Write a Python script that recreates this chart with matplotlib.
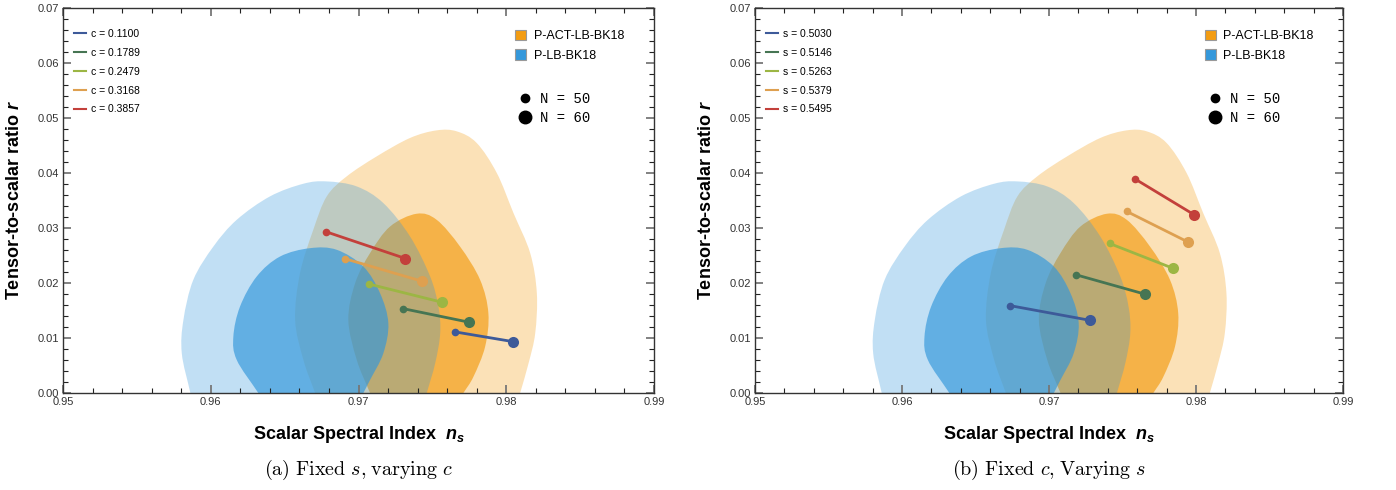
import matplotlib
matplotlib.use("Agg")
import matplotlib.pyplot as plt
from matplotlib.patches import PathPatch, Patch
from matplotlib.path import Path
from matplotlib.lines import Line2D

plt.rcParams['font.family'] = ['Liberation Sans', 'DejaVu Sans']
plt.rcParams['mathtext.fontset'] = 'custom'
plt.rcParams['mathtext.bfit'] = 'Liberation Sans:bold:italic'
plt.rcParams['mathtext.it'] = 'Liberation Sans:italic'

# confidence regions (ns, r)
blue_outer = [(0.95862, 0.0), (0.95804, 0.0072), (0.95815, 0.01327), (0.95882, 0.02055),
              (0.96018, 0.0266), (0.96176, 0.03145), (0.96401, 0.0357), (0.96627, 0.038),
              (0.96785, 0.03842), (0.96988, 0.03751), (0.97168, 0.03449), (0.97349, 0.02842),
              (0.97485, 0.02115), (0.97541, 0.01569), (0.97553, 0.01085), (0.97519, 0.0054),
              (0.97462, 0.0)]
blue_inner = [(0.96322, 0.0), (0.96176, 0.006), (0.96153, 0.01024), (0.96198, 0.01569),
              (0.96311, 0.02115), (0.96469, 0.02478), (0.96672, 0.0263), (0.96853, 0.026),
              (0.97033, 0.02296), (0.97146, 0.01812), (0.97202, 0.01267), (0.97168, 0.0072),
              (0.97078, 0.00236), (0.97033, 0.0)]
orange_outer = [(0.96706, 0.0), (0.96627, 0.006), (0.96571, 0.01327), (0.96604, 0.02176),
                (0.96694, 0.02964), (0.96785, 0.0357), (0.9692, 0.03933), (0.97123, 0.04296),
                (0.97349, 0.04631), (0.97529, 0.04769), (0.97665, 0.04751), (0.978, 0.0454),
                (0.97936, 0.03995), (0.98049, 0.03267), (0.98162, 0.0254), (0.98207, 0.01812),
                (0.98196, 0.01085), (0.98151, 0.0054), (0.98094, 0.0)]
orange_inner = [(0.97078, 0.0), (0.96988, 0.006), (0.96931, 0.01327), (0.96977, 0.01994),
                (0.97078, 0.0254), (0.97214, 0.03024), (0.97394, 0.03255), (0.97529, 0.03145),
                (0.97687, 0.0266), (0.97823, 0.02055), (0.97879, 0.01449), (0.97857, 0.00842),
                (0.97778, 0.00296), (0.9771, 0.0)]

# panel (a): fixed s, varying c  -> (N=50 point, N=60 point)
c_labels = ["c = 0.1100", "c = 0.1789", "c = 0.2479", "c = 0.3168", "c = 0.3857"]
c_ns50 = [0.97655, 0.97300, 0.97074, 0.96911, 0.96781]
c_r50 = [0.01109, 0.01533, 0.01976, 0.02436, 0.02927]
c_ns60 = [0.98045, 0.97749, 0.97563, 0.97428, 0.97318]
c_r60 = [0.00933, 0.01285, 0.01649, 0.02031, 0.02442]

# panel (b): fixed c, varying s
s_labels = ["s = 0.5030", "s = 0.5146", "s = 0.5263", "s = 0.5379", "s = 0.5495"]
s_ns50 = [0.96732, 0.97186, 0.97412, 0.97529, 0.97586]
s_r50 = [0.01588, 0.02145, 0.02715, 0.03297, 0.03885]
s_ns60 = [0.97276, 0.97654, 0.97841, 0.97943, 0.97988]
s_r60 = [0.01321, 0.01794, 0.02267, 0.02745, 0.03236]

line_colors = ['#3d5a99', '#467553', '#9cb644', '#dea050', '#c3403b']
orange = '#f39c12'
blue = '#3498db'
xticks = [0.95, 0.96, 0.97, 0.98, 0.99]
yticks = [0.00, 0.01, 0.02, 0.03, 0.04, 0.05, 0.06, 0.07]


def smooth_path(pts):
    # Catmull-Rom through the traced outline, closed along r = 0
    p = [(2 * pts[0][0] - pts[1][0], 2 * pts[0][1] - pts[1][1])] + list(pts) + \
        [(2 * pts[-1][0] - pts[-2][0], 2 * pts[-1][1] - pts[-2][1])]
    verts = [pts[0]]
    codes = [Path.MOVETO]
    for i in range(1, len(p) - 2):
        p0, p1, p2, p3 = p[i - 1], p[i], p[i + 1], p[i + 2]
        c1 = (p1[0] + (p2[0] - p0[0]) / 6, p1[1] + (p2[1] - p0[1]) / 6)
        c2 = (p2[0] - (p3[0] - p1[0]) / 6, p2[1] - (p3[1] - p1[1]) / 6)
        verts += [c1, c2, p2]
        codes += [Path.CURVE4] * 3
    verts.append(pts[0])
    codes.append(Path.CLOSEPOLY)
    return Path(verts, codes)


def draw_panel(ax, labels, ns50, r50, ns60, r60, caption):
    ax.add_patch(PathPatch(smooth_path(orange_outer), fc=orange, alpha=0.3, lw=0))
    ax.add_patch(PathPatch(smooth_path(orange_inner), fc=orange, alpha=0.67, lw=0))
    ax.add_patch(PathPatch(smooth_path(blue_outer), fc=blue, alpha=0.3, lw=0))
    ax.add_patch(PathPatch(smooth_path(blue_inner), fc=blue, alpha=0.67, lw=0))

    handles = []
    for i in range(len(labels)):
        col = line_colors[i]
        ax.plot([ns50[i], ns60[i]], [r50[i], r60[i]], color=col, lw=2, zorder=3)
        ax.plot(ns50[i], r50[i], 'o', color=col, ms=5.5, mec='none', zorder=4)
        ax.plot(ns60[i], r60[i], 'o', color=col, ms=8, mec='none', zorder=4)
        handles.append(Line2D([], [], color=col, lw=1.5, label=labels[i]))

    ax.set_xlim(0.95, 0.99)
    ax.set_ylim(0.0, 0.07)
    ax.set_xticks(xticks)
    ax.set_xticklabels(["%.2f" % v for v in xticks])
    ax.set_yticks(yticks)
    ax.set_yticklabels(["%.2f" % v for v in yticks])
    ax.set_xticks([0.95 + 0.002 * k for k in range(21)], minor=True)
    ax.set_yticks([0.002 * k for k in range(36)], minor=True)
    ax.tick_params(which='both', direction='in', top=True, right=True,
                   labelsize=8, labelcolor='#333333', pad=3)
    ax.tick_params(which='major', length=6, width=1.3, color='#777777')
    ax.tick_params(which='minor', length=3.5, width=0.8, color='#222222')
    for sp in ax.spines.values():
        sp.set_linewidth(1.0)
        sp.set_color('#333333')

    ax.set_xlabel(r"Scalar Spectral Index  $\mathbfit{n_s}$", fontsize=13,
                  fontweight='bold', labelpad=12)
    ax.set_ylabel(r"Tensor-to-scalar ratio $\mathbfit{r}$", fontsize=13,
                  fontweight='bold', labelpad=10)

    leg1 = ax.legend(handles=handles, loc='upper left', bbox_to_anchor=(0.012, 0.955),
                     frameon=False, fontsize=7.5, handlelength=1.1, handletextpad=0.5,
                     labelspacing=0.85, borderaxespad=0)
    ax.add_artist(leg1)

    patches = [Patch(fc=orange, ec='#999999', lw=0.8, label="P-ACT-LB-BK18"),
               Patch(fc=blue, ec='#999999', lw=0.8, label="P-LB-BK18")]
    leg2 = ax.legend(handles=patches, loc='upper left', bbox_to_anchor=(0.756, 0.955),
                     frameon=False, fontsize=9, handlelength=0.9, handleheight=0.9,
                     handletextpad=0.6, labelspacing=0.55, borderaxespad=0)
    ax.add_artist(leg2)

    dots = [Line2D([], [], ls='none', marker='o', color='black', ms=6, label="N = 50"),
            Line2D([], [], ls='none', marker='o', color='black', ms=9, label="N = 60")]
    ax.legend(handles=dots, loc='upper left', bbox_to_anchor=(0.763, 0.795),
              frameon=False, prop={'family': 'Liberation Mono', 'size': 10},
              handlelength=0.8, handletextpad=0.7, labelspacing=0.35, borderaxespad=0)

    pos = ax.get_position()
    ax.figure.text(pos.x0 + pos.width / 2, 0.04, caption, ha='center', va='center',
                   fontsize=14.5, math_fontfamily='cm')


fig = plt.figure(figsize=(13.96, 4.9), dpi=100)
ax1 = fig.add_axes([63 / 1396, 1 - 393 / 490, 591 / 1396, 385.5 / 490])
ax2 = fig.add_axes([755 / 1396, 1 - 393 / 490, 588 / 1396, 385.5 / 490])

draw_panel(ax1, c_labels, c_ns50, c_r50, c_ns60, c_r60,
           r"$\mathrm{(a)\ Fixed}\ s\mathrm{,}\;\mathrm{varying}\ c$")
draw_panel(ax2, s_labels, s_ns50, s_r50, s_ns60, s_r60,
           r"$\mathrm{(b)\ Fixed}\ c\mathrm{,}\;\mathrm{Varying}\ s$")

fig.savefig("out.png", dpi=100)
